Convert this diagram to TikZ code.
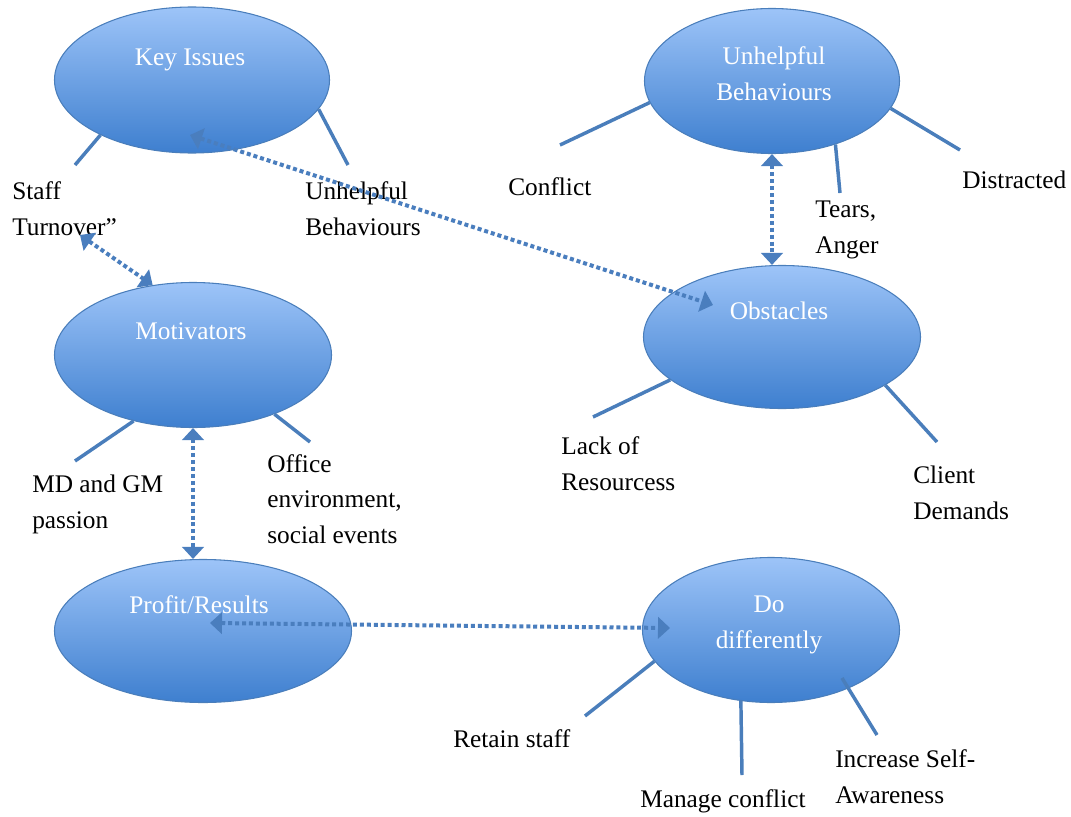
\documentclass[tikz,border=0pt]{standalone}
\usepackage{fontspec}
\setmainfont{Liberation Serif}
\usetikzlibrary{shapes.geometric,arrows.meta}

\definecolor{bubbleline}{RGB}{74,126,187}
\definecolor{bubbletop}{RGB}{157,196,248}
\definecolor{bubblebot}{RGB}{62,127,207}
\definecolor{linkblue}{RGB}{74,126,190}

\tikzset{
  bubble/.style={ellipse, draw=bubbleline, line width=0.8pt, top color=bubbletop, bottom color=bubblebot, inner sep=0pt},
  bubbletext/.style={anchor=base, align=center, inner sep=0pt, text=white, font=\fontsize{19}{26.3}\selectfont},
  lbl/.style={anchor=base west, align=left, inner sep=0pt, font=\fontsize{19}{26.3}\selectfont},
  spoke/.style={draw=bubbleline, line width=2.6pt},
  link/.style={draw=linkblue, line width=3pt, dash pattern=on 3pt off 2.2pt,
    {Triangle[length=9pt,width=16pt]}-{Triangle[length=9pt,width=16pt]}},
}

\begin{document}
\begin{tikzpicture}[x=0.75pt,y=-0.75pt]
    \useasboundingbox (0,0) rectangle (1071,817);
    % bubbles
    \node[bubble, minimum width=206.25pt, minimum height=109.5pt] (key) at (192,80) {};
    \node[bubble, minimum width=191.25pt, minimum height=108.75pt] (unh) at (772,81) {};
    \node[bubble, minimum width=207.75pt, minimum height=108.75pt] (mot) at (193,355) {};
    \node[bubble, minimum width=207.75pt, minimum height=107.25pt] (obst) at (782,337) {};
    \node[bubble, minimum width=222.75pt, minimum height=107.25pt] (prof) at (203,631) {};
    \node[bubble, minimum width=192.75pt, minimum height=108.75pt] (dodiff) at (771,630) {};
    % base of a multi-line node = its last line
    \node[bubbletext] (keyt) at (190,65) {Key Issues};
    \node[bubbletext] (unht) at (774,100) {Unhelpful\\Behaviours};
    \node[bubbletext] (mott) at (191,339) {Motivators};
    \node[bubbletext] (obstt) at (779,319) {Obstacles};
    \node[bubbletext] (proft) at (199,613) {Profit/Results};
    \node[bubbletext] (dodifft) at (769,648) {Do\\differently};
    % spoke ends
    \coordinate (staffend) at (75,165);
    \coordinate (unhlblend) at (348,165);
    \coordinate (conflictend) at (560,145);
    \coordinate (tearsend) at (840,193);
    \coordinate (distrend) at (960,150);
    \coordinate (lackend) at (593,417);
    \coordinate (clientend) at (937,442);
    \coordinate (mdgmend) at (75,461);
    \coordinate (officeend) at (310,442);
    \coordinate (retainend) at (585,716);
    \coordinate (manageend) at (742,775);
    \coordinate (selfawend) at (877,735);
    \draw[spoke] (key.211) -- (staffend);
    \draw[spoke] (key.347) -- (unhlblend);
    \draw[spoke] (unh.190) -- (conflictend);
    \draw[spoke] (unh.315) -- (tearsend);
    \draw[spoke] (unh.347) -- (distrend);
    \draw[spoke] (obst.201) -- (lackend);
    \draw[spoke] (obst.335) -- (clientend);
    \draw[spoke] (mot.228) -- (mdgmend);
    \draw[spoke] (mot.324) -- (officeend);
    \draw[spoke] (dodiff.195) -- (retainend);
    \draw[spoke] (dodiff.247) -- (manageend);
    \draw[spoke] ([shift={(71,48)}]dodiff.center) -- (selfawend);
    % labels
    \node[lbl] (staff) at (12,235) {Staff\\Turnover”};
    \node[lbl] (unhlbl) at (305,235) {Unhelpful\\Behaviours};
    \node[lbl] (conflict) at (508,195) {Conflict};
    \node[lbl] (tears) at (815,253) {Tears,\\Anger};
    \node[lbl] (distr) at (962,188) {Distracted};
    \node[lbl] (lack) at (561,490) {Lack of\\Resourcess};
    \node[lbl] (client) at (913,519) {Client\\Demands};
    \node[lbl] (mdgm) at (32,528) {MD and GM\\passion};
    \node[lbl] (office) at (267,543) {Office\\environment,\\social events};
    \node[lbl] (retain) at (453,747) {Retain staff};
    \node[lbl] (manage) at (640,807) {Manage conflict};
    \node[lbl] (selfaw) at (835,803) {Increase Self-\\Awareness};
    % links
    \draw[link] ([shift={(-2,55)}]key.center) -- ([shift={(-69,-32)}]obst.center);
    \draw[link] ([shift={(68,0)}]staff.base west) -- (mot.120);
    \draw[link] (unh.south) -- (unh.south |- obst.north);
    \draw[link] (mot.south) -- (mot.south |- prof.north);
    \draw[link] ([shift={(7,-8)}]prof.center) -- ([shift={(-101,-2)}]dodiff.center);
\end{tikzpicture}
\end{document}
